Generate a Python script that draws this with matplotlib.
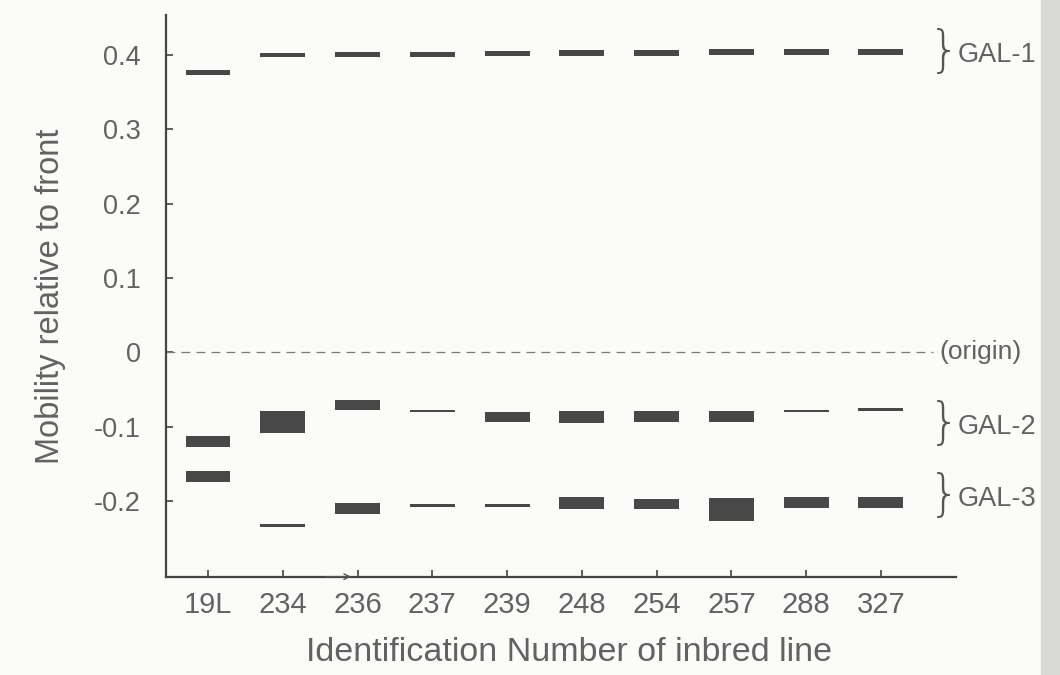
import matplotlib.pyplot as plt
from matplotlib.patches import Rectangle

plt.rcParams['font.family'] = ['Liberation Sans', 'DejaVu Sans']

# inbred lines along the x axis
lines = ['19L', '234', '236', '237', '239', '248', '254', '257', '288', '327']

# band mobility (centre of each band)
gal1 = [0.377, 0.400, 0.401, 0.401, 0.402, 0.403, 0.403, 0.404, 0.404, 0.404]
gal2 = [-0.120, -0.094, -0.071, -0.079, -0.087, -0.087, -0.086, -0.086, -0.079, -0.077]
gal3 = [-0.167, -0.233, -0.210, -0.206, -0.206, -0.203, -0.204, -0.212, -0.202, -0.202]

# band thickness (in mobility units)
gal1_thick = [0.007, 0.006, 0.006, 0.006, 0.007, 0.007, 0.007, 0.008, 0.008, 0.008]
gal2_thick = [0.014, 0.029, 0.014, 0.004, 0.014, 0.015, 0.015, 0.015, 0.004, 0.005]
gal3_thick = [0.014, 0.005, 0.015, 0.004, 0.004, 0.016, 0.014, 0.031, 0.015, 0.015]

groups = ['GAL-1', 'GAL-2', 'GAL-3']

ink = '#484848'
txt = '#626262'

fig = plt.figure(figsize=(10.6, 6.75), dpi=100, facecolor='#fbfbf9')
ax = fig.add_axes([0.1566, 0.1457, 0.745, 0.832])
ax.set_facecolor('#fbfbf9')

x = list(range(len(lines)))
for vals, thick in [(gal1, gal1_thick), (gal2, gal2_thick), (gal3, gal3_thick)]:
    bottoms = [v - t / 2 for v, t in zip(vals, thick)]
    ax.bar(x, thick, width=0.6, bottom=bottoms, color=ink, edgecolor='none')

# origin line
ax.plot([-0.56, 9.7], [0, 0], color='#7a7a7a', lw=0.9, ls=(0, (7, 5)))

ax.set_xlim(-0.562, 10.0)
ax.set_ylim(-0.302, 0.454)
ax.set_yticks([0.4, 0.3, 0.2, 0.1, 0, -0.1, -0.2])
ax.set_yticklabels(['0.4', '0.3', '0.2', '0.1', '0', '-0.1', '-0.2'], fontsize=19.5, color=txt)
ax.set_xticks(x)
ax.set_xticklabels(lines, fontsize=21, color=txt)
ax.tick_params(axis='both', direction='in', length=5, width=1.2, color='#444444')
ax.tick_params(axis='y', pad=18)
ax.tick_params(axis='x', pad=10)

for s in ['top', 'right']:
    ax.spines[s].set_visible(False)
for s in ['left', 'bottom']:
    ax.spines[s].set_color('#444444')
    ax.spines[s].set_linewidth(1.6)

ax.set_ylabel('Mobility relative to front', fontsize=23.5, color=txt)
ax.set_xlabel('Identification Number of inbred line', fontsize=24.5, color=txt)
ax.yaxis.set_label_coords(-0.127, 0.5)
ax.xaxis.set_label_coords(0.51, -0.107)

# small arrow drawn on the x axis
ax.annotate('', xy=(1.95, -0.302), xytext=(1.55, -0.302),
            arrowprops=dict(arrowstyle='->', color='#555555', lw=1.0), annotation_clip=False)

# group braces and labels on the right
brace_y = [0.404, -0.096, -0.193]
for g, yv in zip(groups, brace_y):
    ax.text(9.85, yv, '}', fontsize=35, color='#555555', ha='center', va='center',
            family='DejaVu Sans', fontweight='light', clip_on=False)
    ax.text(10.03, yv - 0.004, g, fontsize=19.5, color=txt, ha='left', va='center',
            clip_on=False)
ax.text(9.78, 0, '(origin)', fontsize=19, color=txt, ha='left', va='center',
        clip_on=False)

# page shadow at right edge
fig.patches.append(Rectangle((0.982, 0), 0.018, 1, transform=fig.transFigure,
                             color='#d8d8d6', zorder=0))

fig.savefig('out.png', dpi=100, facecolor=fig.get_facecolor())
